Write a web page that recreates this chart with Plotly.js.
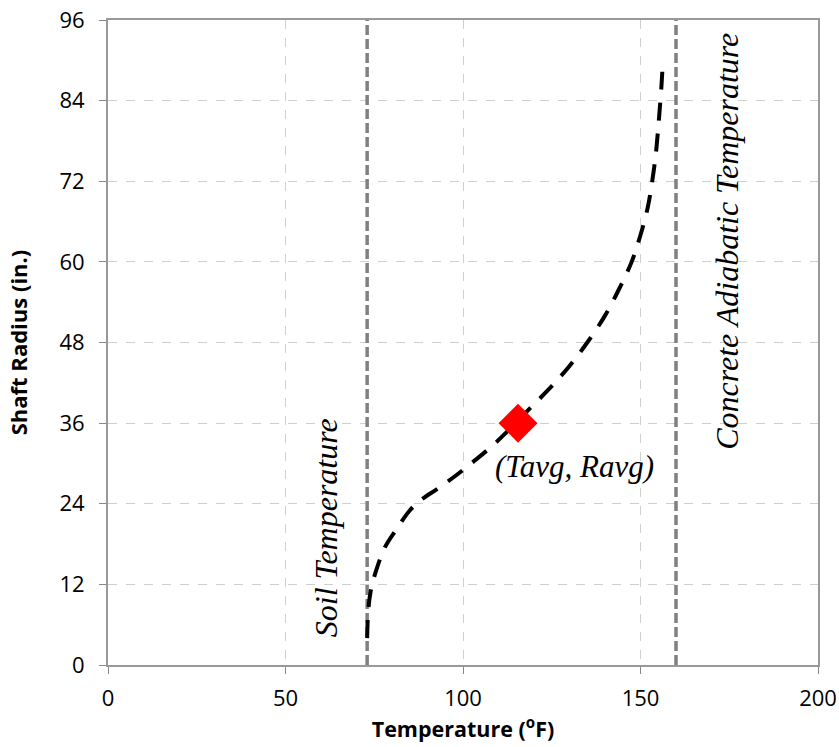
<!DOCTYPE html>
<html><head><meta charset="utf-8">
<script src="https://cdn.plot.ly/plotly-3.0.1.min.js"></script>
<style>html,body{margin:0;padding:0;background:#fff}#c{width:839px;height:747px}</style>
</head><body><div id="c"></div>
<script>
const curveT = [73, 73.3, 74, 75.5, 78, 81, 85, 88, 93, 98, 103, 108, 112, 115.5, 120, 125, 130, 135, 140, 144, 147.5, 150, 152, 153.3, 154.3, 155, 155.6, 156, 156.3];
const curveR = [4, 8, 11, 14, 17.5, 20, 23, 24.5, 26.3, 28.2, 30.3, 32.5, 34.5, 36.4, 38.8, 41.5, 44.5, 48, 52, 56, 60, 64, 68, 72, 76, 80, 84, 87, 90];
const soilT = 73;
const concreteT = 160;
const avgT = [115.5];
const avgR = [36];
const xTicks = [0, 50, 100, 150, 200];
const yTicks = [0, 12, 24, 36, 48, 60, 72, 84, 96];

const traces = [
  {x:[soilT, soilT], y:[0, 96], mode:'lines', line:{color:'#808080', width:3.5, dash:'10px,4px'}, hoverinfo:'skip'},
  {x:[concreteT, concreteT], y:[0, 96], mode:'lines', line:{color:'#808080', width:3.5, dash:'10px,4px'}, hoverinfo:'skip'},
  {x:curveT, y:curveR, mode:'lines', line:{color:'#000', width:4, dash:'18px,13px', shape:'spline'}},
  {x:avgT, y:avgR, mode:'markers', marker:{symbol:'diamond', size:30, color:'#ff0000'}}
];
const serif = 'Liberation Serif, Times New Roman, serif';
const layout = {
  width:839, height:747, showlegend:false,
  margin:{l:108, r:21, t:20, b:82},
  paper_bgcolor:'#fff', plot_bgcolor:'#fff',
  font:{family:'Open Sans, sans-serif', color:'#000'},
  xaxis:{range:[0,200], tickvals:xTicks, ticks:'outside', ticklen:7, tickcolor:'#888', tickwidth:1,
    showline:true, linecolor:'#999', linewidth:2, mirror:true, zeroline:false,
    showgrid:true, gridcolor:'#cfcfcf', griddash:'dash', gridwidth:1, ticklabelstandoff:6,
    tickfont:{size:22, family:'Open Sans, sans-serif'},
    title:{text:'<b>Temperature (<sup>o</sup>F)</b>', font:{size:21.5, family:'Open Sans, sans-serif'}, standoff:6}},
  yaxis:{range:[0,96], tickvals:yTicks, ticks:'outside', ticklen:7, tickcolor:'#888', tickwidth:1,
    showline:true, linecolor:'#999', linewidth:2, mirror:true, zeroline:false,
    showgrid:true, gridcolor:'#cfcfcf', griddash:'dash', gridwidth:1, ticklabelstandoff:10,
    tickfont:{size:22, family:'Open Sans, sans-serif'},
    title:{text:'<b>Shaft Radius (in.)</b>', font:{size:22, family:'Open Sans, sans-serif'}, standoff:26}},
  annotations:[
    {x:61.4, y:20.5, xref:'x', yref:'y', text:'<i>Soil Temperature</i>', textangle:-90, showarrow:false, font:{family:serif, size:32, color:'#000'}},
    {x:174.4, y:63, xref:'x', yref:'y', text:'<i>Concrete Adiabatic Temperature</i>', textangle:-90, showarrow:false, font:{family:serif, size:32, color:'#000'}},
    {x:131.3, y:29.5, xref:'x', yref:'y', text:'<i>(Tavg, Ravg)</i>', showarrow:false, font:{family:serif, size:31, color:'#000'}}
  ]
};
Plotly.newPlot('c', traces, layout, {displayModeBar:false, staticPlot:true});
</script></body></html>
